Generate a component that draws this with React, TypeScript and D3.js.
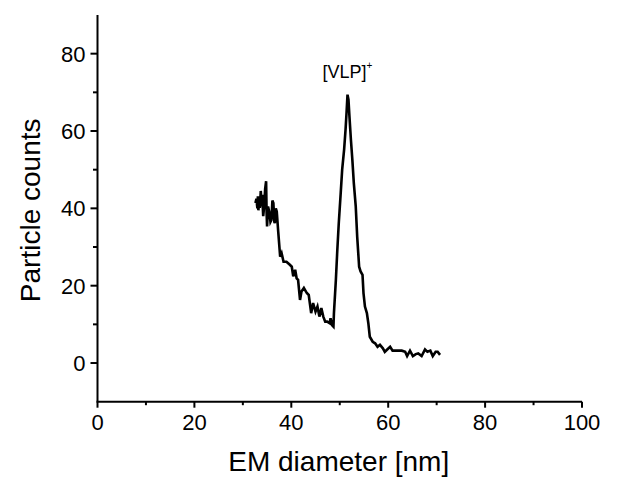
import React from "react";
import * as d3 from "d3";

const diameter = [
  32.6, 32.8, 33.0, 33.1, 33.2, 33.4, 33.5, 33.7, 33.9, 34.0, 34.2, 34.4, 34.6, 34.8, 34.9, 35.0, 35.2, 35.5, 35.7, 35.9,
  36.1, 36.3, 36.5, 36.6, 36.8, 37.0, 37.3, 37.7, 38.0, 38.4, 39.0, 39.7, 40.1, 40.4,
  40.8, 41.1, 41.4, 41.8, 42.1, 42.6, 43.2, 43.6, 44.1, 44.5, 45.0, 45.4, 45.8, 46.2, 46.6, 47.0, 47.4, 47.9, 48.1, 48.4,
  48.7, 48.8, 49.2, 49.5, 49.8, 50.2, 50.5, 50.9, 51.2, 51.4, 51.6, 51.8, 52.0, 52.3, 52.6, 52.9, 53.3, 53.6, 54.0, 54.3,
  54.7, 54.9, 55.2, 55.6, 55.9, 56.2, 56.8, 57.3, 57.8, 58.3, 58.9, 59.3, 59.8, 60.4, 60.9, 61.8, 62.8, 63.5, 63.9, 64.5,
  65.1, 65.7, 66.2, 66.9, 67.6, 68.1, 68.7, 69.2, 69.8, 70.2, 70.7,
];
const counts = [
  41.4, 42.5, 40.0, 43.1, 39.5, 42.0, 40.1, 44.5, 40.5, 43.5, 38.0, 40.5, 45.0, 47.0, 39.0, 35.3, 40.5, 38.8, 36.5, 37.0,
  42.0, 41.4, 36.5, 36.2, 40.0, 39.2, 34.0, 27.5, 28.4, 26.2, 26.2, 25.4, 24.9, 22.4,
  24.1, 21.9, 21.5, 16.3, 18.5, 19.4, 18.1, 17.6, 12.9, 15.5, 13.3, 14.6, 12.0, 14.2, 12.0, 10.7, 10.7, 10.3, 11.6, 9.8,
  9.4, 12.9, 21.5, 29.3, 36.2, 44.0, 50.0, 55.2, 60.4, 64.7, 69.4, 68.1, 63.8, 57.8, 52.6, 46.6, 40.5, 32.7, 24.9, 23.7,
  22.8, 18.1, 14.6, 12.9, 10.3, 6.8, 5.5, 5.1, 4.2, 4.7, 3.8, 2.9, 3.5, 4.2, 3.2, 3.2, 3.2, 2.9, 1.8, 3.2,
  1.8, 2.3, 2.5, 1.8, 3.5, 2.9, 3.2, 1.8, 2.9, 2.9, 2.1,
];
const xTicks = [0, 20, 40, 60, 80, 100];
const xMinor = [10, 30, 50, 70, 90];
const yTicks = [0, 20, 40, 60, 80];
const yMinor = [10, 30, 50, 70];
const peakLabel = "[VLP]";
const xTitle = "EM diameter [nm]";
const yTitle = "Particle counts";

export default function App() {
  const W = 644, H = 480;
  const x = d3.scaleLinear().domain([0, 100]).range([97.5, 582]);
  const y = d3.scaleLinear().domain([-10, 90]).range([401.7, 15]);
  const pts = diameter.map((d, i) => [d, counts[i]] as [number, number]);
  const line = d3.line<[number, number]>().x(d => x(d[0])).y(d => y(d[1]));
  const font = "Liberation Sans, Arial, sans-serif";
  return (
    <svg width={W} height={H} style={{ position: "absolute", left: 0, top: 0, background: "#fff" }}>
      <rect width={W} height={H} fill="#fff" />
      <line x1={x(0)} x2={x(0)} y1={y(90)} y2={y(-10)} stroke="#000" strokeWidth={2} />
      <line x1={x(0) - 1} x2={x(100)} y1={y(-10)} y2={y(-10)} stroke="#000" strokeWidth={2} />
      {xTicks.map(t => (
        <g key={"xt" + t}>
          <line x1={x(t)} x2={x(t)} y1={y(-10)} y2={y(-10) + 6} stroke="#000" strokeWidth={2} />
          <text x={x(t)} y={y(-10) + 28} textAnchor="middle" fontFamily={font} fontSize={22}>{t}</text>
        </g>
      ))}
      {xMinor.map(t => (
        <line key={"xm" + t} x1={x(t)} x2={x(t)} y1={y(-10)} y2={y(-10) + 3.5} stroke="#000" strokeWidth={2} />
      ))}
      {yTicks.map(t => (
        <g key={"yt" + t}>
          <line x1={x(0) - 7} x2={x(0)} y1={y(t)} y2={y(t)} stroke="#000" strokeWidth={2} />
          <text x={x(0) - 12} y={y(t) + 8} textAnchor="end" fontFamily={font} fontSize={22}>{t}</text>
        </g>
      ))}
      {yMinor.map(t => (
        <line key={"ym" + t} x1={x(0) - 4.5} x2={x(0)} y1={y(t)} y2={y(t)} stroke="#000" strokeWidth={2} />
      ))}
      <path d={line(pts) || ""} fill="none" stroke="#000" strokeWidth={2.6} strokeLinejoin="miter" />
      <text x={x(51.6) - 25} y={78} fontFamily={font} fontSize={18}>
        {peakLabel}
        <tspan dy={-9} fontSize={10}>+</tspan>
      </text>
      <text x={(x(0) + x(100)) / 2 - 1} y={471} textAnchor="middle" fontFamily={font} fontSize={28}>{xTitle}</text>
      <text transform={`translate(40, ${y(40) + 2}) rotate(-90)`} textAnchor="middle" fontFamily={font} fontSize={28}>{yTitle}</text>
    </svg>
  );
}
